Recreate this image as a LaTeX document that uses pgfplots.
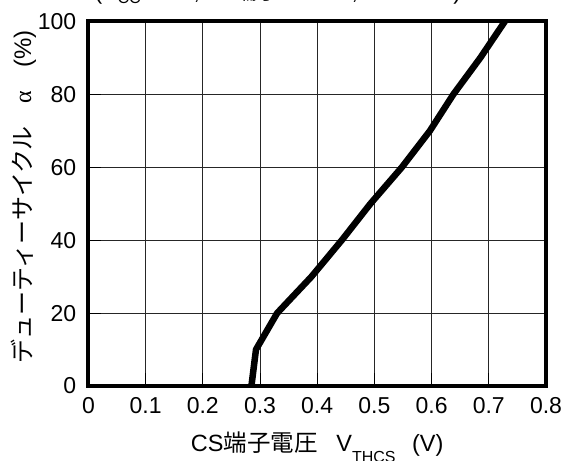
\documentclass[border=0pt]{standalone}
\usepackage{fontspec}
\setmainfont{Liberation Sans}
\newfontfamily\jp{Noto Sans CJK JP}
\newfontfamily\serifa{Liberation Serif}
\usepackage{pgfplots}
\pgfplotsset{compat=1.18}
\begin{document}
\fontsize{22}{26}\selectfont
\begin{tikzpicture}
\begin{axis}[
  at={(0,0)}, anchor=south west,
  scale only axis, width=457.6pt, height=364.5pt,
  xmin=0, xmax=0.8, ymin=0, ymax=100,
  xtick={0,0.1,0.2,0.3,0.4,0.5,0.6,0.7,0.8},
  xticklabels={0,0.1,0.2,0.3,0.4,0.5,0.6,0.7,0.8},
  ytick={0,20,40,60,80,100},
  /pgf/number format/assume math mode=true,
  tick label style={font=\fontsize{23}{27}\selectfont},
  xticklabel style={anchor=base, inner sep=0pt, yshift=-28pt},
  yticklabel style={anchor=east, inner sep=0pt, xshift=-12pt},
  xtick pos=bottom, ytick pos=left,
  tick align=inside, major tick length=13pt,
  tick style={black, line width=0.9pt},
  grid=major,
  major grid style={black!85, line width=0.8pt},
  axis line style={black, line width=4pt},
  clip=true,
  title={(V\textsubscript{CC} = 6V, {\jp FB端子} = 1.2V, Ta=25°C)},
  title style={font=\fontsize{23}{27}\selectfont, at={(axis description cs:0.414,1)}, anchor=base, yshift=16pt, inner sep=0pt},
  xlabel={CS{\jp 端子電圧}\hspace{0.8em}V\raisebox{-0.45em}{\fontsize{16}{16}\selectfont THCS}\hspace{0.7em}(V)},
  xlabel style={font=\fontsize{23.5}{27}\selectfont, at={(axis description cs:0.5,0)}, anchor=base, yshift=-66pt, inner sep=0pt},
  ylabel={{\jp デューティーサイクル}\hspace{0.95em}{\serifa α}\hspace{0.95em}(\%)},
  ylabel style={font=\fontsize{24}{28}\selectfont, at={(axis description cs:-0.142,0.519)}, anchor=center, inner sep=0pt},
]
\addplot[black, line width=6.5pt, line join=round] coordinates {
 (0.285,-2) (0.285,0) (0.293,10) (0.330,20) (0.390,30) (0.443,40) (0.493,50)
 (0.548,60) (0.597,70) (0.638,80) (0.685,90) (0.728,100) (0.732,102)
};
\end{axis}
\pgfresetboundingbox
\path[use as bounding box] (-88.4pt,-75pt) rectangle (477.6pt,386pt);
\end{tikzpicture}
\end{document}
